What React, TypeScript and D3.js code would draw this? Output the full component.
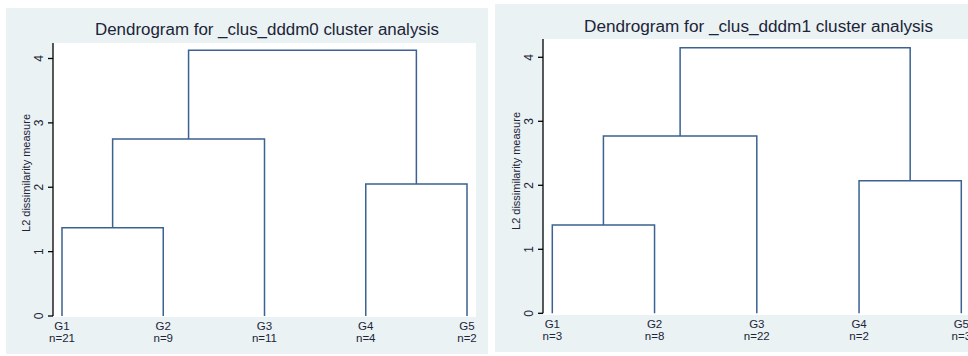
import React from "react";
import * as d3 from "d3";

// Leaf groups and their sizes for the two cluster analyses
const leaves0 = ["G1", "G2", "G3", "G4", "G5"];
const counts0 = [21, 9, 11, 4, 2];
const leaves1 = ["G1", "G2", "G3", "G4", "G5"];
const counts1 = [3, 8, 22, 2, 3];

// Merges: [left node, right node, dissimilarity]. Nodes 0-4 are leaves,
// node 5 is the first merge, 6 the second, and so on.
const merges0: [number, number, number][] = [
  [0, 1, 1.37],
  [5, 2, 2.75],
  [3, 4, 2.05],
  [6, 7, 4.13],
];
const merges1: [number, number, number][] = [
  [0, 1, 1.38],
  [5, 2, 2.77],
  [3, 4, 2.07],
  [6, 7, 4.15],
];

const yTicks = [0, 1, 2, 3, 4];

const BG = "#eaf2f3";
const LINE = "#3b6290";
const TEXT = "#1c2438";
const FONT = "'Liberation Sans', Arial, sans-serif";

type Layout = {
  frame: [number, number, number, number];
  plotLeft: number;
  plotRight: number;
  plotTop: number;
  plotBottom: number;
  leafFirst: number;
  leafLast: number;
  y0: number;
  y4: number;
  titleX: number;
  titleY: number;
  titleW: number;
  axisTitleX: number;
  axisTitleY: number;
};

function Dendrogram({
  title,
  leaves,
  counts,
  merges,
  L,
}: {
  title: string;
  leaves: string[];
  counts: number[];
  merges: [number, number, number][];
  L: Layout;
}) {
  const x = d3.scalePoint<string>().domain(leaves).range([L.leafFirst, L.leafLast]);
  const y = d3.scaleLinear().domain([0, 4]).range([L.y0, L.y4]);

  // node positions: x centre and height
  const nodes: { x: number; h: number }[] = leaves.map((g) => ({ x: x(g)!, h: 0 }));
  const paths: string[] = [];
  merges.forEach(([a, b, h]) => {
    const na = nodes[a];
    const nb = nodes[b];
    const p = d3.path();
    p.moveTo(na.x, y(na.h));
    p.lineTo(na.x, y(h));
    p.lineTo(nb.x, y(h));
    p.lineTo(nb.x, y(nb.h));
    paths.push(p.toString());
    nodes.push({ x: (na.x + nb.x) / 2, h });
  });

  const [fx, fy, fw, fh] = L.frame;
  return (
    <g>
      <rect x={fx} y={fy} width={fw} height={fh} fill={BG} />
      <rect
        x={L.plotLeft}
        y={L.plotTop}
        width={L.plotRight - L.plotLeft}
        height={L.plotBottom - L.plotTop}
        fill="#ffffff"
      />
      <text
        x={L.titleX}
        y={L.titleY}
        textAnchor="middle"
        fontFamily={FONT}
        fontSize={16}
        fill={TEXT}
        textLength={L.titleW}
        lengthAdjust="spacingAndGlyphs"
      >
        {title}
      </text>
      {/* y axis */}
      <line
        x1={L.plotLeft}
        x2={L.plotLeft}
        y1={L.plotTop}
        y2={y(0)}
        stroke="#000"
        strokeWidth={1.3}
      />
      {yTicks.map((t) => (
        <g key={t}>
          <line
            x1={L.plotLeft - 5}
            x2={L.plotLeft}
            y1={y(t)}
            y2={y(t)}
            stroke="#000"
            strokeWidth={1.3}
          />
          <text
            transform={`translate(${L.plotLeft - 10},${y(t)}) rotate(-90)`}
            textAnchor="middle"
            fontFamily={FONT}
            fontSize={12}
            fill={TEXT}
          >
            {t}
          </text>
        </g>
      ))}
      <text
        transform={`translate(${L.axisTitleX},${L.axisTitleY}) rotate(-90)`}
        textAnchor="middle"
        fontFamily={FONT}
        fontSize={11}
        fill={TEXT}
      >
        L2 dissimilarity measure
      </text>
      {/* links */}
      {paths.map((d, i) => (
        <path key={i} d={d} fill="none" stroke={LINE} strokeWidth={1.5} />
      ))}
      {/* leaf labels */}
      {leaves.map((g, i) => (
        <g key={g}>
          <text
            x={x(g)}
            y={L.plotBottom + 13}
            textAnchor="middle"
            fontFamily={FONT}
            fontSize={11.5}
            fill={TEXT}
          >
            {g}
          </text>
          <text
            x={x(g)}
            y={L.plotBottom + 25}
            textAnchor="middle"
            fontFamily={FONT}
            fontSize={11.5}
            fill={TEXT}
          >
            {`n=${counts[i]}`}
          </text>
        </g>
      ))}
    </g>
  );
}

const layout0: Layout = {
  frame: [6, 8, 482, 346],
  plotLeft: 53,
  plotRight: 476,
  plotTop: 43,
  plotBottom: 317,
  leafFirst: 62,
  leafLast: 467,
  y0: 316,
  y4: 58.5,
  titleX: 267,
  titleY: 35,
  titleW: 344,
  axisTitleX: 30,
  axisTitleY: 173,
};

const layout1: Layout = {
  frame: [495, 4, 482, 348],
  plotLeft: 543,
  plotRight: 990,
  plotTop: 39,
  plotBottom: 315,
  leafFirst: 552.3,
  leafLast: 961.3,
  y0: 313.3,
  y4: 57.3,
  titleX: 758.5,
  titleY: 32,
  titleW: 349,
  axisTitleX: 520,
  axisTitleY: 171,
};

export default function App() {
  return (
    <svg
      width={968}
      height={356}
      style={{ position: "absolute", left: 0, top: 0, background: "#fff" }}
    >
      <Dendrogram
        title="Dendrogram for _clus_dddm0 cluster analysis"
        leaves={leaves0}
        counts={counts0}
        merges={merges0}
        L={layout0}
      />
      <Dendrogram
        title="Dendrogram for _clus_dddm1 cluster analysis"
        leaves={leaves1}
        counts={counts1}
        merges={merges1}
        L={layout1}
      />
    </svg>
  );
}
